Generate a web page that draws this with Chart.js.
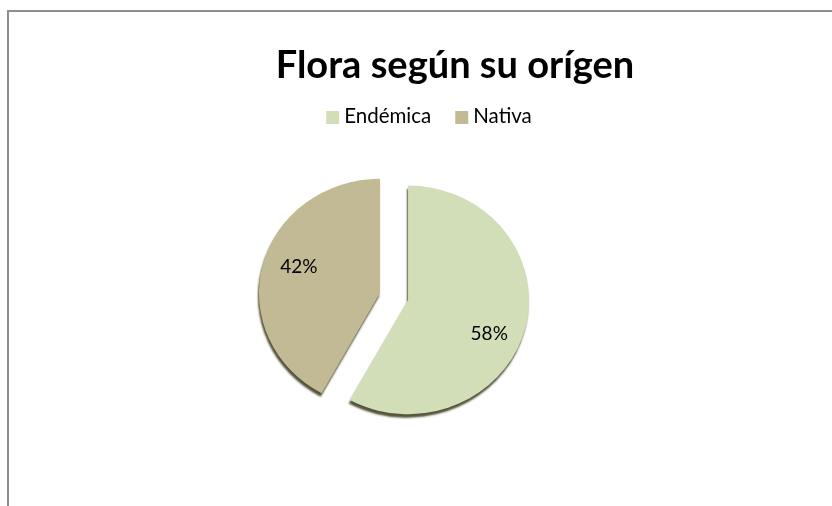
<!DOCTYPE html>
<html>
<head>
<meta charset="utf-8">
<script src="https://cdn.jsdelivr.net/npm/chart.js@4/dist/chart.umd.min.js"></script>
<style>
  html, body { margin: 0; padding: 0; background: #fff; overflow: hidden; }
  #wrap { position: relative; width: 832px; height: 506px; overflow: hidden; }
  #frame { position: absolute; left: 7px; top: 10px; width: 900px; height: 600px;
           border-top: 2px solid #8e8e8e; border-left: 2px solid #8e8e8e; }
  canvas { position: absolute; left: 0; top: 0; }
</style>
</head>
<body>
<div id="wrap">
  <div id="frame"></div>
  <canvas id="chart" width="832" height="506"></canvas>
</div>
<script>
// Data
const chartTitle = 'Flora según su orígen';
const categories = ['Endémica', 'Nativa'];
const shares = [58, 42];
const sliceColors = ['#d1deb7', '#c2ba94'];

const FONT = 'Lato, "Open Sans", sans-serif';
const TILT = 0.945;   // slight perspective squash of the pie
const EXPLODE = 14.5; // px each slice is pulled out along its bisector

// title + legend drawn at the spots the original uses
const headerPlugin = {
    id: 'header',
    afterDraw(chart) {
        const ctx = chart.ctx;
        ctx.save();
        ctx.fillStyle = '#000';
        ctx.textBaseline = 'alphabetic';
        ctx.textAlign = 'center';
        ctx.font = 'bold 38px ' + FONT;
        ctx.fillText(chartTitle, 455, 78);

        ctx.font = '20.5px ' + FONT;
        ctx.textAlign = 'left';
        const box = 13, gap = 5, between = 24;
        const widths = categories.map(c => ctx.measureText(c).width);
        const total = widths.reduce((a, w) => a + box + gap + w, 0) + between * (categories.length - 1);
        let x = 429 - total / 2;
        categories.forEach((c, i) => {
            ctx.fillStyle = sliceColors[i];
            ctx.fillRect(x, 111, box, box);
            ctx.fillStyle = '#000';
            ctx.fillText(c, x + box + gap, 123);
            x += box + gap + widths[i] + between;
        });
        ctx.restore();
    }
};

// draw each arc exploded, squashed, with a soft rim shadow (office 3d look)
const explodePlugin = {
    id: 'explode',
    beforeDatasetDraw(chart, args) {
        const ctx = chart.ctx;
        const a = chart.chartArea;
        const cy = (a.top + a.bottom) / 2;
        args.meta.data.forEach(arc => {
            const mid = (arc.startAngle + arc.endAngle) / 2;
            ctx.save();
            ctx.translate(0, cy);
            ctx.scale(1, TILT);
            ctx.translate(0, -cy);
            ctx.translate(Math.cos(mid) * EXPLODE, Math.sin(mid) * EXPLODE);
            ctx.shadowColor = 'rgba(65, 65, 35, 0.9)';
            ctx.shadowOffsetX = -1;
            ctx.shadowOffsetY = 3.5;
            ctx.shadowBlur = 2;
            arc.draw(ctx);
            ctx.restore();
        });
        return false;
    }
};

// percentage labels inside the slices
const pctPlugin = {
    id: 'pct',
    afterDatasetsDraw(chart) {
        const ctx = chart.ctx;
        const meta = chart.getDatasetMeta(0);
        const total = shares.reduce((a, b) => a + b, 0);
        ctx.save();
        ctx.font = '19px ' + FONT;
        ctx.fillStyle = '#000';
        ctx.textAlign = 'center';
        ctx.textBaseline = 'middle';
        meta.data.forEach((arc, i) => {
            const mid = (arc.startAngle + arc.endAngle) / 2;
            const ox = arc.x + Math.cos(mid) * EXPLODE;
            const oy = arc.y + Math.sin(mid) * EXPLODE * TILT;
            const la = mid + 0.12;
            const d = arc.outerRadius * 0.72;
            const x = ox + Math.cos(la) * d;
            const y = oy + Math.sin(la) * d * TILT + 4;
            ctx.fillText(Math.round(shares[i] / total * 100) + '%', x, y);
        });
        ctx.restore();
    }
};

new Chart(document.getElementById('chart'), {
    type: 'pie',
    data: {
        labels: categories,
        datasets: [{
            data: shares,
            backgroundColor: sliceColors,
            borderWidth: 0
        }]
    },
    options: {
        responsive: false,
        animation: false,
        events: [],
        radius: 121,
        layout: { padding: { left: 130, right: 174, top: 150, bottom: 63 } },
        plugins: {
            legend: { display: false },
            title: { display: false },
            tooltip: { enabled: false }
        }
    },
    plugins: [explodePlugin, pctPlugin, headerPlugin]
});
</script>
</body>
</html>
